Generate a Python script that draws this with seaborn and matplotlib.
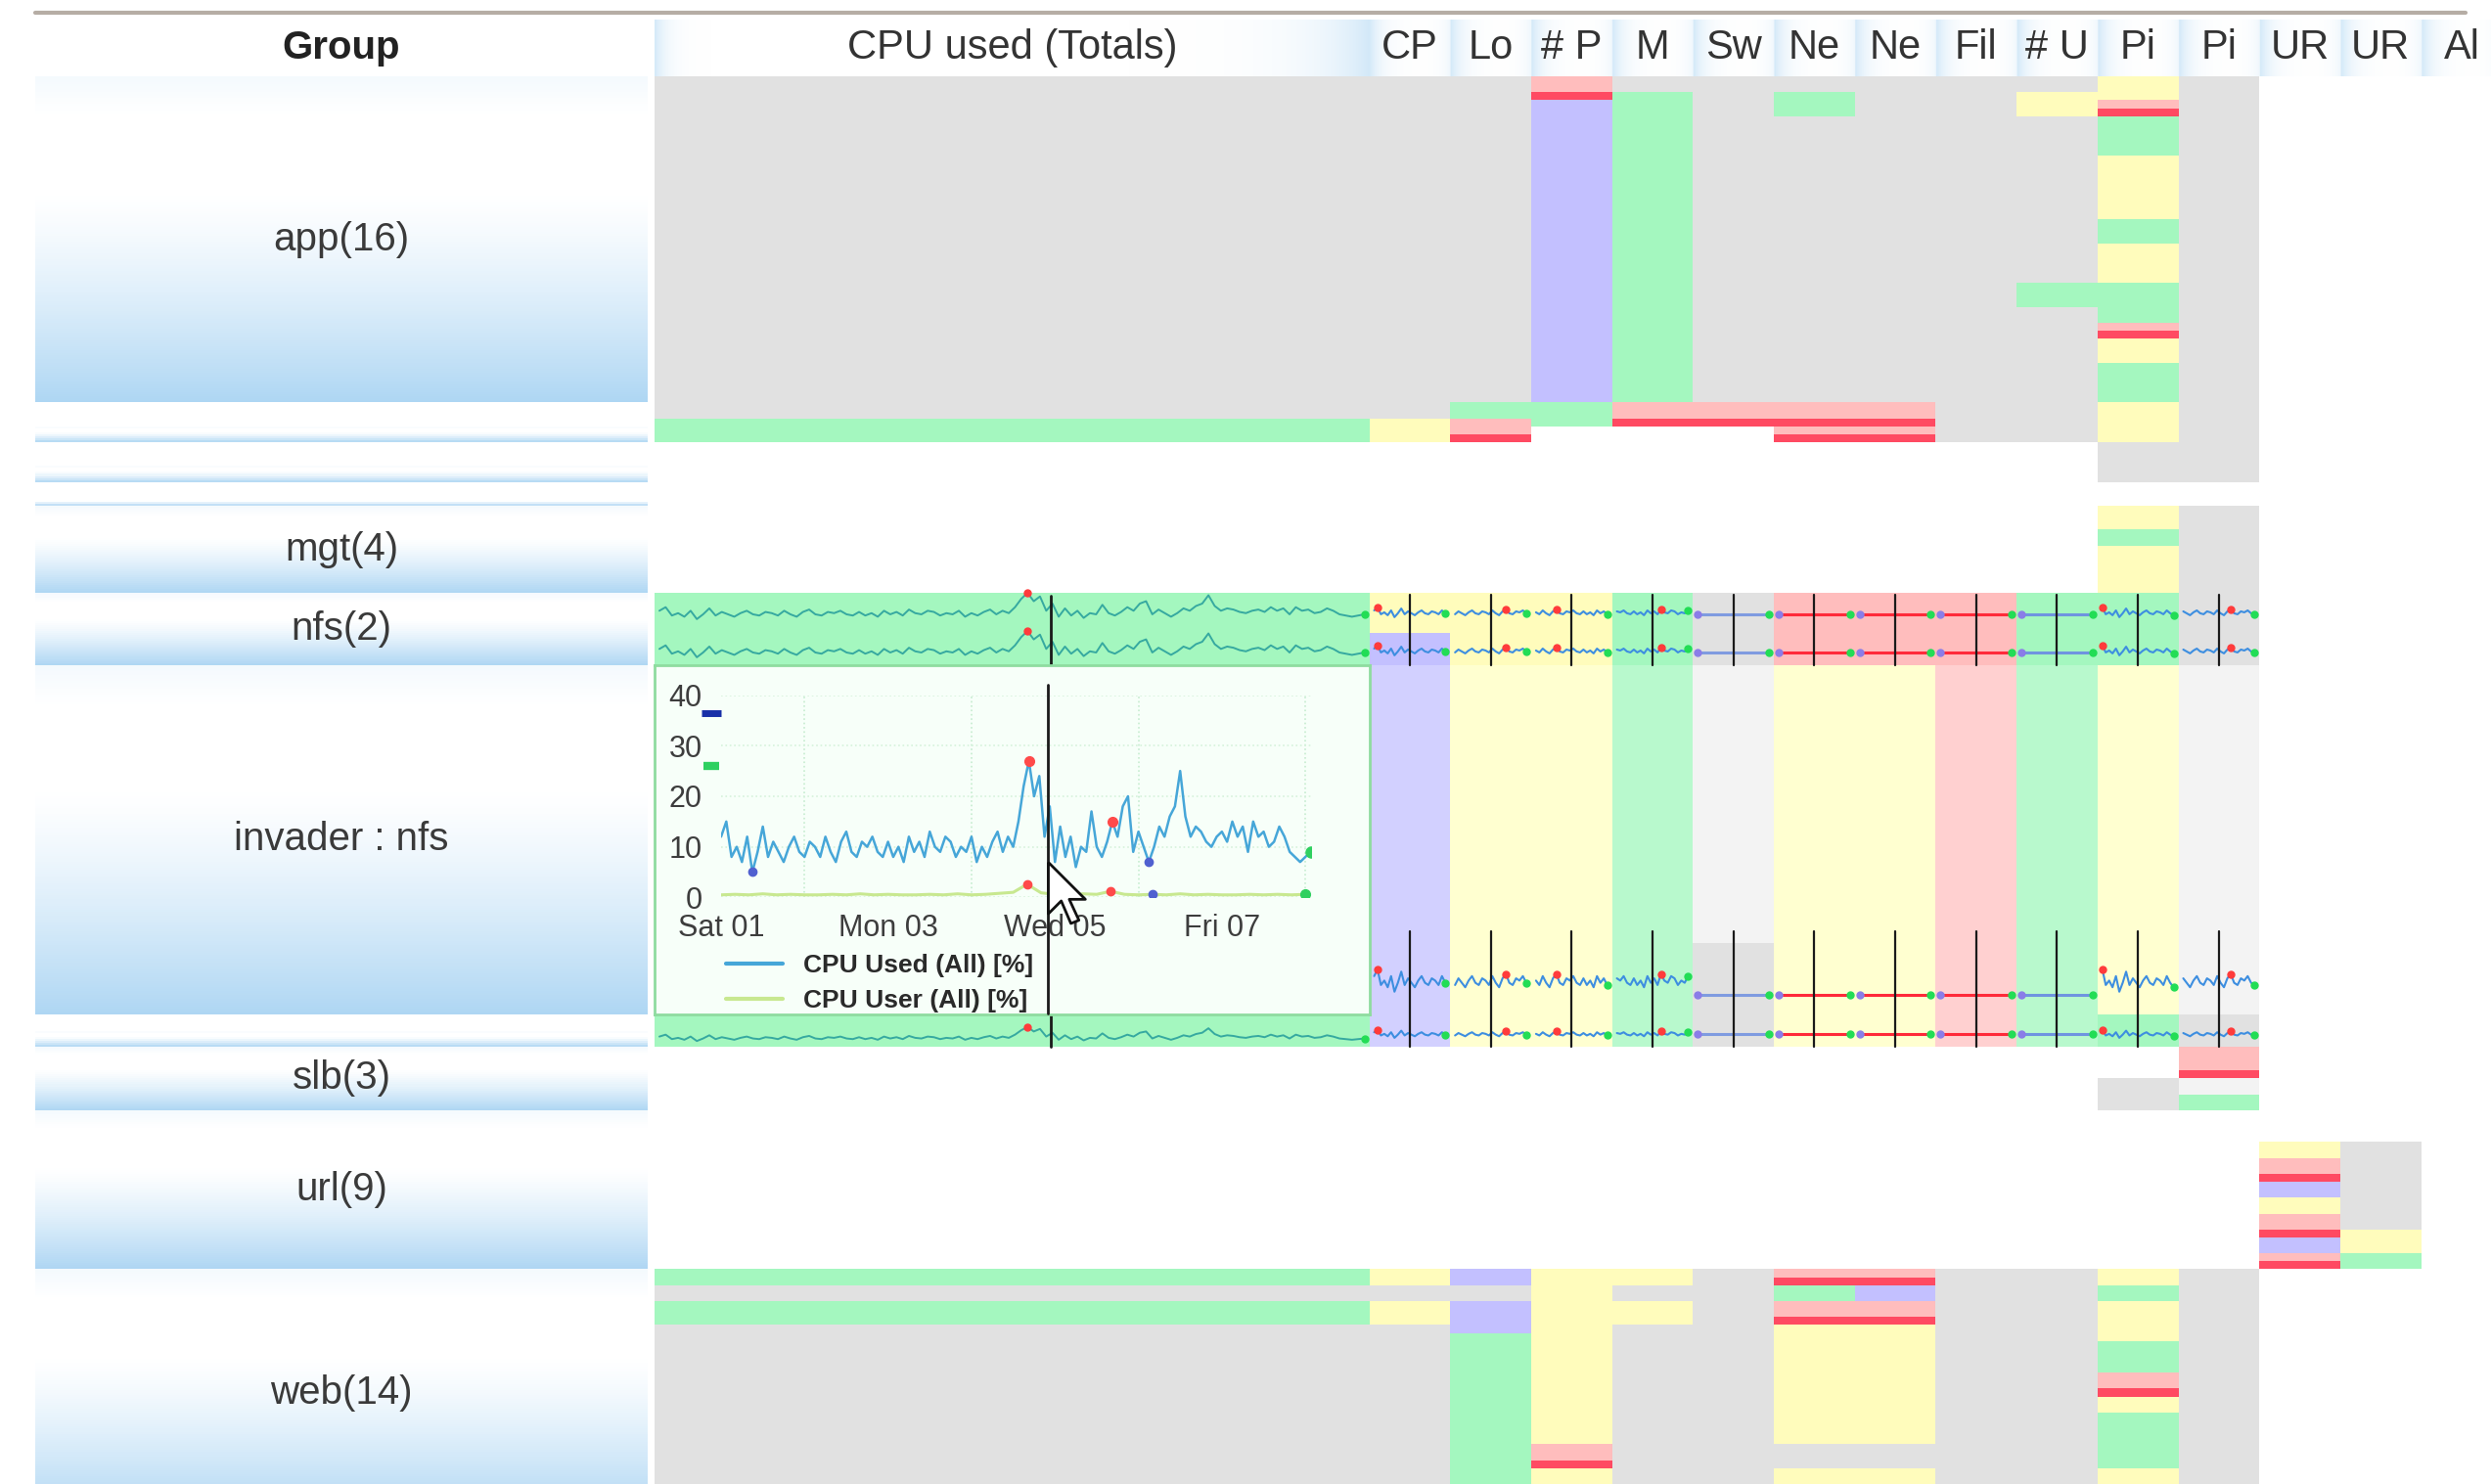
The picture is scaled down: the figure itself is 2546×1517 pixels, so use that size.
"""
Host-group status board: metric status cells per group, CPU sparklines and
the CPU trend popup of the invader : nfs host.
"""
import numpy as np
import pandas as pd
import matplotlib
matplotlib.use('Agg')
import matplotlib.pyplot as plt
import seaborn as sns
from matplotlib.colors import ListedColormap, LinearSegmentedColormap
from matplotlib.lines import Line2D
from matplotlib.path import Path

# ------------------------------------------------------------------ data
HEADERS = ['CPU used (Totals)', 'CP', 'Lo', '# P', 'M', 'Sw', 'Ne', 'Ne',
           'Fil', '# U', 'Pi', 'Pi', 'UR', 'UR', 'Al']

GROUP_LABELS = ['app(16)', None, '', None, '', None, '', 'mgt(4)', 'nfs(2)',
                'invader : nfs', None, '', 'slb(3)', 'url(9)', 'web(14)']
GROUP_ROWS = [41, 3, 2, 3, 2, 2, 1, 11, 9, 44, 2, 2, 8, 20, 31]

# w none, G gray, g green, y yellow, p pink, r red, l lavender,
# x light gray, q light pink, Y / L / E pale yellow / lavender / green
STATUS_CODES = 'wGgyprlxqYLE'
STATUS_COLORS = ['#ffffff', '#e1e1e1', '#a4f7bf', '#fffcbc', '#ffbdbd', '#ff4a62',
                 '#c3c0ff', '#f3f3f3', '#ffd0d0', '#ffffd0', '#d2d0ff', '#b8f9cd']

# run-length coded status per column, top to bottom
STATUS_RUNS = [
    "G43 g3 w8 w11 g9 w44 g4 w8 w20 g2 G2 g3 G20",                       # CPU used
    "G43 y3 w8 w11 y5 l4 L48 w8 w20 y2 G2 y3 G20",                       # CP
    "G41 g2 p2 r1 w8 w11 y9 Y48 w8 w20 l2 G2 l4 g19",                    # Lo
    "p2 r1 l38 g3 w2 w8 w11 y9 Y48 w8 w20 y22 p2 r1 y2",                 # # P
    "G2 g39 p2 r1 w2 w8 w11 g9 E48 w8 w20 y2 G2 y3 G20",                 # M
    "G41 p2 r1 w2 w8 w11 G9 x35 G13 w8 w20 G27",                         # Sw
    "G2 g3 G36 p2 r1 p1 r1 w8 w11 p9 Y48 w8 w20 p1 r1 g2 p2 r1 y15 G3 y2",  # Ne
    "G41 p2 r1 p1 r1 w8 w11 p9 Y48 w8 w20 p1 r1 l2 p2 r1 y15 G3 y2",     # Ne
    "G46 w8 w11 p9 q48 w8 w20 G27",                                      # Fil
    "G2 y3 G21 g3 G17 w8 w11 g9 E48 w8 w20 G27",                         # # U
    "y3 p1 r1 g5 y8 g3 y5 g5 p1 r1 y3 g5 y5 G5 w3 y3 g2 y6 g9 Y44 g4 "
    "w4 G4 w20 y2 g2 y5 g4 p2 r1 y2 g7 y2",                              # Pi
    "G46 G5 w3 G11 G9 x44 G4 p3 r1 x2 g2 w20 G27",                       # Pi
    "w130 w4 y2 p2 r1 l2 y2 p2 r1 l2 p1 r1 w27",                         # UR
    "w130 w4 G11 y3 g2 w27",                                             # UR
    "w177",                                                              # Al
]

# CPU Used (All) [%] of invader : nfs, one value per 1.5 h from Sat 01
CPU_USED = [12, 15, 8, 10, 7, 12, 5, 9, 14, 8, 11, 9, 7, 10, 12, 9,
            8, 11, 10, 8, 12, 9, 7, 11, 13, 9, 8, 11, 10, 12, 9, 8,
            11, 8, 10, 7, 12, 9, 11, 8, 13, 10, 9, 12, 11, 8, 10, 9,
            12, 7, 10, 8, 11, 13, 9, 12, 10, 15, 22, 27, 20, 24, 12, 18,
            7, 14, 8, 12, 6, 10, 9, 17, 10, 8, 11, 15, 12, 18, 20, 9,
            13, 10, 7, 10, 14, 12, 16, 18, 25, 16, 12, 14, 13, 11, 10, 12,
            13, 11, 15, 12, 14, 9, 15, 12, 13, 10, 11, 14, 12, 9, 8, 7,
            8, 9]
USED_STEP_H = 1.5
# CPU User (All) [%], one value per 4 h
CPU_USER = [0.5, 0.6, 0.5, 0.7, 0.5, 0.6, 0.5, 0.5, 0.6, 0.5, 0.7, 0.5, 0.6, 0.5,
            0.5, 0.6, 0.5, 0.7, 0.5, 0.6, 0.8, 1.0, 2.6, 0.9, 0.6, 0.5, 0.7, 0.6,
            1.2, 0.6, 0.5, 0.6, 0.5, 0.7, 0.5, 0.6, 0.5, 0.5, 0.6, 0.5, 0.6, 0.5, 0.6]
USER_STEP_H = 4

USED_RED_IDX = [59, 75]
USED_BLUE_IDX = [6, 82]
USER_RED_IDX = [22, 28]
USER_BLUE_IDX = [31]
MAX_MARK, AVG_MARK = 36.5, 26
CURSOR_T = 3.92                      # days after Sat 01 00:00
POINTER_V = 7                        # mouse pointer tip, in % on the popup
DAY_TICKS = [0, 2, 4, 6]
DAY_LABELS = ['Sat 01', 'Mon 03', 'Wed 05', 'Fri 07']

# per narrow column (CP .. Pi) sparkline kind: n = noisy trace, f = flat
SPARK_KIND = 'nnnnfffffnn'
FLAT_COLORS = {5: '#7f9be0', 6: '#ff2a3a', 7: '#ff2a3a', 8: '#ff2a3a', 9: '#6f94e0'}

# ------------------------------------------------------------------ layout
FIG_W, FIG_H, DPI = 2546, 1517, 100
SUB_W = 6                            # grid units per narrow column
CPU_SPAN = 53                        # grid units of the CPU column
GRID_X0, UNIT_W = 669, 82.7 / SUB_W
GRID_Y0, GRID_Y1 = 78, 1517
HEAD_Y0 = 20
GROUP_X0, GROUP_X1 = 36, 662

sns.set_style('white')
plt.rcParams['font.family'] = ['Liberation Sans', 'DejaVu Sans']


def fig_rect(x0, y0, x1, y1):
    return [x0 / FIG_W, 1 - y1 / FIG_H, (x1 - x0) / FIG_W, (y1 - y0) / FIG_H]


def expand(runs):
    out = []
    for tok in runs.split():
        out += [STATUS_CODES.index(tok[0])] * int(tok[1:])
    return out


cols = []
for i, runs in enumerate(STATUS_RUNS):
    cols += [expand(runs)] * (CPU_SPAN if i == 0 else SUB_W)
grid = pd.DataFrame(np.array(cols).T)
n_rows, n_units = grid.shape
row_h = (GRID_Y1 - GRID_Y0) / n_rows
grid_x1 = GRID_X0 + n_units * UNIT_W

starts = np.concatenate([[0], np.cumsum(GROUP_ROWS)])
nfs_r0, nfs_r1 = starts[8], starts[9]
inv_r0, inv_r1 = starts[9], starts[10]
inv_end = starts[12]

fig = plt.figure(figsize=(FIG_W / DPI, FIG_H / DPI), dpi=DPI)

# ---- status grid
ax = fig.add_axes(fig_rect(GRID_X0, GRID_Y0, grid_x1, GRID_Y1))
sns.heatmap(grid, ax=ax, cmap=ListedColormap(STATUS_COLORS), vmin=-0.5,
            vmax=len(STATUS_COLORS) - 0.5, cbar=False, xticklabels=False,
            yticklabels=False, linewidths=0)
ax.set_xlim(0, n_units)
ax.set_ylim(n_rows, 0)


def spark(x0, x1, base, vals, scale, color, lw=1.6, dots=True):
    vals = np.asarray(vals, float)
    xs = np.linspace(x0, x1, len(vals))
    ys = base - vals * scale
    ax.plot(xs, ys, color=color, lw=lw, solid_joinstyle='round', zorder=3)
    if dots:
        i = int(np.argmax(vals))
        ax.plot(xs[i], ys[i], 'o', color='#ff3b3b', ms=5, zorder=4)
        ax.plot(xs[-1], ys[-1], 'o', color='#22dd55', ms=5, zorder=4)


used_days = np.arange(len(CPU_USED)) * USED_STEP_H / 24
user_days = np.arange(len(CPU_USER)) * USER_STEP_H / 24
t_end = used_days[-1]

# CPU column sparklines for the nfs hosts and the second invader host
sx0, sx1 = 0.06 * SUB_W, CPU_SPAN - 0.06 * SUB_W
cursor_x = sx0 + CURSOR_T / t_end * (sx1 - sx0)
spark(sx0, sx1, nfs_r0 + 4.0, CPU_USED, 0.15, '#36a9a0', lw=1.4)
spark(sx0, sx1, nfs_r0 + 8.8, CPU_USED, 0.15, '#36a9a0', lw=1.4)
spark(sx0, sx1, inv_end - 0.3, CPU_USED, 0.08, '#36a9a0', lw=1.4)
ax.plot([cursor_x, cursor_x], [nfs_r0 + 0.3, nfs_r1], color='#1a1a1a', lw=2, zorder=5)
ax.plot([cursor_x, cursor_x], [inv_r1, inv_end], color='#1a1a1a', lw=2, zorder=5)

# narrow column sparklines
for k, kind in enumerate(SPARK_KIND):
    c = CPU_SPAN + k * SUB_W
    x0, x1 = c + 0.06 * SUB_W, c + 0.94 * SUB_W
    seg = CPU_USED[(k * 9) % 80:(k * 9) % 80 + 22]
    slots = [(nfs_r0 + 3.6, 0.12), (nfs_r1 - 0.6, 0.12),
             (inv_r1 - 1.5, 0.28), (inv_end - 0.6, 0.1)]
    for base, scale in slots:
        if kind == 'n':
            spark(x0, x1, base, seg, scale, '#3d8ee0', lw=1.5)
        else:
            col = FLAT_COLORS[k + 1]
            ax.plot([x0, x1], [base - 1, base - 1], color=col, lw=2.2, zorder=3)
            ax.plot(x0, base - 1, 'o', color='#8a7de8', ms=5, zorder=4)
            ax.plot(x1, base - 1, 'o', color='#22dd55', ms=5, zorder=4)
    xm = c + 0.5 * SUB_W
    ax.plot([xm, xm], [nfs_r0 + 0.2, nfs_r1], color='#1a1a1a', lw=1.6, zorder=5)
    ax.plot([xm, xm], [inv_r1 - 10.5, inv_end], color='#1a1a1a', lw=1.6, zorder=5)

# ---- group column (may run past the bottom edge, like the screen)
SUB = 4
g_rows = int(starts[-1])
grad = np.full(g_rows * SUB, np.nan)
ax_g = fig.add_axes(fig_rect(GROUP_X0, GRID_Y0, GROUP_X1, GRID_Y0 + g_rows * row_h))
for label, r0, n in zip(GROUP_LABELS, starts[:-1], GROUP_ROWS):
    if label is None:
        continue
    f = (np.arange(n * SUB) + 0.5) / (n * SUB)
    grad[r0 * SUB:(r0 + n) * SUB] = (np.clip(0.14 * (1 - f / 0.12), 0, None)
                                     + np.clip((f - 0.35) / 0.65, 0, None) ** 1.3)
group_cmap = LinearSegmentedColormap.from_list('grp', ['#ffffff', '#aed6f3'])
sns.heatmap(pd.DataFrame(grad[:, None]), ax=ax_g, cmap=group_cmap, vmin=0, vmax=1,
            cbar=False, xticklabels=False, yticklabels=False)
for label, r0, n in zip(GROUP_LABELS, starts[:-1], GROUP_ROWS):
    if label:
        ax_g.text(0.5, (r0 + n / 2) * SUB, label, ha='center', va='center',
                  fontsize=29, color='#3a3a3a')

# ---- header row
ax_h = fig.add_axes(fig_rect(GRID_X0, HEAD_Y0, grid_x1, GRID_Y0))
spans = [CPU_SPAN] + [SUB_W] * (len(HEADERS) - 1)
xs = np.linspace(0, n_units, n_units * 8, endpoint=False) + 1 / 16
head = np.zeros_like(xs)
left = 0
for s in spans:
    m = (xs >= left) & (xs < left + s)
    d_l, d_r = (xs[m] - left) / SUB_W, (left + s - xs[m]) / SUB_W
    head[m] = 0.55 * np.exp(-d_l / 0.14) + (0.55 * np.exp(-d_r / 0.6) if s > SUB_W
                                            else 0.2 * np.exp(-d_r / 0.1))
    left += s
ax_h.imshow(head[None, :], aspect='auto', cmap=group_cmap, vmin=0, vmax=1,
            extent=[0, n_units, 0, 1])
ax_h.set_xlim(0, n_units)
ax_h.set_ylim(0, 1)
ax_h.axis('off')
left = 0
for name, s in zip(HEADERS, spans):
    ax_h.text(left + s / 2, 0.5, name, ha='center', va='center', fontsize=30,
              color='#333333')
    left += s
fig.text((GROUP_X0 + GROUP_X1) / 2 / FIG_W, 1 - 49 / FIG_H, 'Group', ha='center',
         va='center', fontsize=29, fontweight='bold', color='#222222')
fig.add_artist(Line2D([GROUP_X0 / FIG_W, 2520 / FIG_W], [1 - 13 / FIG_H] * 2,
                      color='#b6ada5', lw=3))

# ---- CPU popup of invader : nfs
bx0, bx1 = GRID_X0, GRID_X0 + CPU_SPAN * UNIT_W
by0, by1 = GRID_Y0 + inv_r0 * row_h, GRID_Y0 + inv_r1 * row_h
box = fig.add_axes(fig_rect(bx0, by0, bx1, by1))
box.set_facecolor('#f7fff9')
box.set_xticks([])
box.set_yticks([])
for s in box.spines.values():
    s.set_color('#8fdca0')
    s.set_linewidth(2)

ch = fig.add_axes(fig_rect(bx0 + 68, by0 + 31, bx1 - 60, by1 - 120))
ch.patch.set_alpha(0)
sns.lineplot(x=used_days, y=CPU_USED, ax=ch, color='#46a6d8', lw=1.8,
             label='CPU Used (All) [%]')
sns.lineplot(x=user_days, y=CPU_USER, ax=ch, color='#c8e890', lw=2.2,
             label='CPU User (All) [%]')
ch.plot(used_days[USED_RED_IDX], np.array(CPU_USED)[USED_RED_IDX], 'o', color='#ff4a4a', ms=7)
ch.plot(used_days[USED_BLUE_IDX], np.array(CPU_USED)[USED_BLUE_IDX], 'o', color='#5060d0', ms=6)
ch.plot(used_days[-1], CPU_USED[-1], 'o', color='#30d060', ms=8)
ch.plot(user_days[USER_RED_IDX], np.array(CPU_USER)[USER_RED_IDX], 'o', color='#ff4a4a', ms=6)
ch.plot(user_days[USER_BLUE_IDX], np.array(CPU_USER)[USER_BLUE_IDX], 'o', color='#5060d0', ms=6)
ch.plot(user_days[-1], CPU_USER[-1], 'o', color='#30d060', ms=7)
ch.plot([-0.12], [MAX_MARK], marker='_', ms=14, mew=5, color='#1830a8', clip_on=False)
ch.plot([-0.12], [AVG_MARK], marker='_', ms=12, mew=6, color='#2ed060', clip_on=False)
ch.plot([CURSOR_T, CURSOR_T], [-23, 42], color='#1a1a1a', lw=2, clip_on=False, zorder=6)
# mouse pointer resting on the cursor line
arrow = Path([(0, 0), (0, -16), (4, -12), (7, -19), (9.5, -18), (6.5, -11.5),
              (11.5, -11.5), (0, 0)])
ch.plot([CURSOR_T], [POINTER_V], marker=arrow, ms=90, mfc='white', mec='#111111',
        mew=2, clip_on=False, zorder=7)
ch.set_xlim(0, t_end)
ch.set_ylim(0, 40)
ch.set_xticks(DAY_TICKS, DAY_LABELS)
ch.set_xticks(range(8), minor=True)
ch.set_yticks([0, 10, 20, 30, 40])
ch.grid(which='minor', axis='x', color='#c6ecd0', ls=':', lw=1.2)
ch.grid(which='major', axis='y', color='#d6f2dc', ls=':', lw=1.2)
ch.grid(which='major', axis='x', visible=False)
sns.despine(ax=ch, left=True, bottom=True)
ch.tick_params(axis='both', which='both', length=0, labelsize=22, colors='#3d3d3d')
ch.tick_params(axis='y', pad=14)
ch.tick_params(axis='x', pad=12)
ch.set_xlabel('')
ch.set_ylabel('')
leg = ch.legend(loc='upper left', bbox_to_anchor=(-0.01, -0.23), frameon=False,
                prop={'weight': 'bold', 'size': 19}, handlelength=2.2,
                labelspacing=0.45, borderaxespad=0, handletextpad=0.8)
for line in leg.get_lines():
    line.set_linewidth(3)
for t in leg.get_texts():
    t.set_color('#2a2a2a')

fig.savefig('out.png', dpi=DPI)
